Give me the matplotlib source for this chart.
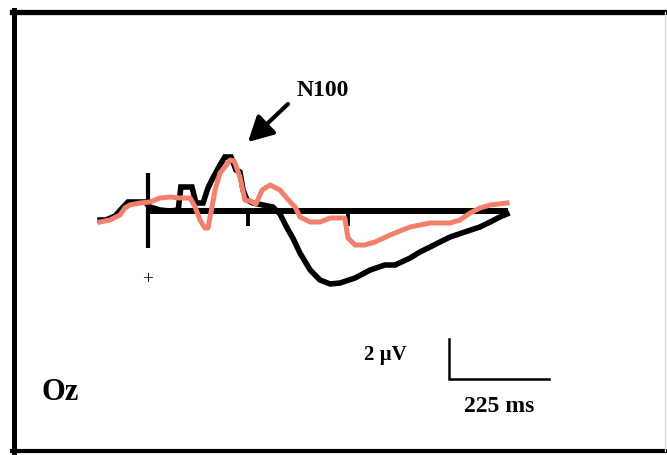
import numpy as np
import matplotlib.pyplot as plt
from matplotlib.lines import Line2D

# Oz grand-average ERPs (ms, µV; negative plotted upward)
t_black = [-108, -95, -74, -58, -45, -7, 5, 27, 50, 68, 74, 99, 108, 124, 135,
           146, 162, 173, 187, 198, 207, 214, 223, 236, 259, 281, 297, 313, 326, 342,
           365, 387, 410, 432, 466, 500, 533, 556, 590, 612, 635, 657, 680, 713, 747,
           770, 792, 808]
v_black = [0.45, 0.45, 0.25, -0.15, -0.45, -0.45, -0.2, -0.05, 0.0, -0.05, -1.2, -1.2, -0.4, -0.4, -1.15,
           -1.65, -2.3, -2.7, -2.7, -2.05, -1.95, -1.05, -0.55, -0.4, -0.3, -0.2, 0.15, 0.85, 1.35, 2.1,
           2.95, 3.45, 3.65, 3.6, 3.35, 2.95, 2.7, 2.7, 2.35, 2.05, 1.8, 1.55, 1.3, 1.05, 0.8,
           0.55, 0.3, 0.15]

t_red = [-108, -86, -63, -52, -41, -18, 5, 27, 50, 72, 95, 106, 117, 128, 135,
         144, 151, 162, 173, 185, 194, 207, 218, 230, 243, 257, 275, 297, 320, 331,
         342, 365, 387, 410, 443, 450, 466, 488, 511, 545, 567, 590, 635, 680, 702,
         725, 747, 770, 808]
v_red = [0.55, 0.45, 0.2, -0.15, -0.3, -0.4, -0.45, -0.65, -0.7, -0.65, -0.65, -0.2, 0.45, 0.85, 0.85,
         -0.2, -1.05, -1.9, -2.2, -2.55, -2.5, -1.7, -0.55, -0.5, -0.35, -1.05, -1.3, -1.05, -0.45, -0.2,
         0.3, 0.55, 0.55, 0.35, 0.35, 1.35, 1.7, 1.7, 1.55, 1.2, 1.0, 0.8, 0.6, 0.6, 0.45,
         0.1, -0.15, -0.3, -0.4]

epoch_end = 810
tick_times = [225, 450]
bar_ms = 225
bar_uv = 2

plt.rcParams['font.family'] = ['Liberation Serif', 'DejaVu Serif']
plt.rcParams['font.weight'] = 'bold'

fig = plt.figure(figsize=(6.67, 4.55), dpi=100)
ax = fig.add_axes([0, 0, 1, 1])
ax.set_xlim(-333, 1168)
ax.set_ylim(12.2, -10.55)
ax.axis('off')

# baseline, onset marker and time ticks
ax.hlines(0, 0, epoch_end, color='black', lw=4.3, zorder=2)
ax.vlines(0, -1.9, 1.85, color='black', lw=3, zorder=2)
ax.vlines(tick_times, 0, 0.75, color='black', lw=2.8, zorder=2)
ax.text(0, 3.45, '+', ha='center', va='center', fontsize=14, fontweight='normal')

ax.plot(t_black, v_black, color='black', lw=4, solid_joinstyle='miter', zorder=3)
ax.plot(t_red, v_red, color='#f2806d', lw=3.6, zorder=4)

# N100 label and arrow
ax.annotate('', xy=(225, -3.45), xytext=(315, -5.35),
            arrowprops=dict(arrowstyle='-|>,head_length=1.5,head_width=0.8',
                            color='black', lw=3, shrinkA=0, shrinkB=0))
ax.text(335, -6.0, 'N100', ha='left', va='center', fontsize=17)

# calibration bar
x0, y0 = 677, 8.4
ax.plot([x0, x0, x0 + bar_ms], [y0 - bar_uv, y0, y0], color='black', lw=1.8,
        solid_joinstyle='miter')
ax.text(x0 - 95, y0 - 1.2, '2 \u00b5V', ha='right', va='center', fontsize=15)
ax.text(x0 + bar_ms / 2, y0 + 1.35, '225 ms', ha='center', va='center', fontsize=17)
ax.text(-240, 9.05, 'Oz', ha='left', va='center', fontsize=22)

# panel frame
W, H = 667, 455
def fline(xs, ys, **kw):
    fig.add_artist(Line2D([x / W for x in xs], [1 - y / H for y in ys],
                          transform=fig.transFigure, **kw))

fline([12, 667], [12, 12], color='black', lw=3.8)
fline([14, 14], [10, 453], color='black', lw=3.6)
fline([12, 667], [451, 451], color='black', lw=3.0)
fline([665, 665], [12, 451], color='#d8d8d8', lw=1.0)

fig.savefig('out.png', dpi=100)
